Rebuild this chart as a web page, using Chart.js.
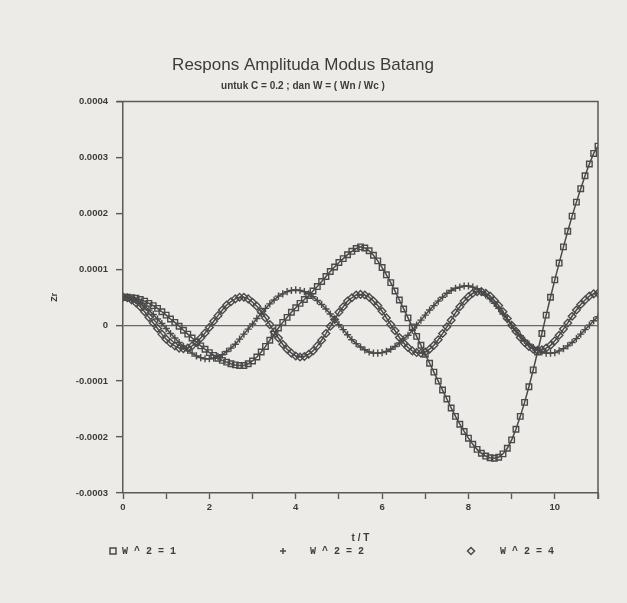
<!DOCTYPE html>
<html>
<head>
<meta charset="utf-8">
<script src="https://cdn.jsdelivr.net/npm/chart.js@4/dist/chart.umd.min.js"></script>
<style>
  html, body { margin: 0; padding: 0; background: #ecebe8; }
  #wrap { width: 627px; height: 603px; position: relative; }
</style>
</head>
<body>
<div id="wrap"><canvas id="c" width="627" height="603"></canvas></div>
<script>
// ---- data (in units of 1e-4) ----
const tValues = [
  0.0,0.1,0.2,0.3,0.4,0.5,0.6,0.7,0.8,0.9,
  1.0,1.1,1.2,1.3,1.4,1.5,1.6,1.7,1.8,1.9,
  2.0,2.1,2.2,2.3,2.4,2.5,2.6,2.7,2.8,2.9,
  3.0,3.1,3.2,3.3,3.4,3.5,3.6,3.7,3.8,3.9,
  4.0,4.1,4.2,4.3,4.4,4.5,4.6,4.7,4.8,4.9,
  5.0,5.1,5.2,5.3,5.4,5.5,5.6,5.7,5.8,5.9,
  6.0,6.1,6.2,6.3,6.4,6.5,6.6,6.7,6.8,6.9,
  7.0,7.1,7.2,7.3,7.4,7.5,7.6,7.7,7.8,7.9,
  8.0,8.1,8.2,8.3,8.4,8.5,8.6,8.7,8.8,8.9,
  9.0,9.1,9.2,9.3,9.4,9.5,9.6,9.7,9.8,9.9,
  10.0,10.1,10.2,10.3,10.4,10.5,10.6,10.7,10.8,10.9,
  11.0
];
const seriesLabels = ['W^2=1', 'W^2=2', 'W^2=4'];
const valuesW1 = [
  0.50,0.50,0.49,0.48,0.46,0.43,0.39,0.35,0.30,0.24,
  0.18,0.11,0.05,-0.02,-0.09,-0.16,-0.23,-0.30,-0.37,-0.43,
  -0.49,-0.54,-0.59,-0.63,-0.66,-0.69,-0.71,-0.72,-0.72,-0.69,
  -0.64,-0.57,-0.48,-0.38,-0.27,-0.16,-0.05,0.05,0.14,0.23,
  0.31,0.39,0.46,0.53,0.61,0.69,0.78,0.87,0.96,1.04,
  1.12,1.19,1.26,1.32,1.37,1.40,1.38,1.33,1.25,1.15,
  1.03,0.90,0.76,0.61,0.45,0.29,0.13,-0.03,-0.20,-0.36,
  -0.52,-0.68,-0.84,-1.00,-1.16,-1.32,-1.48,-1.63,-1.77,-1.90,
  -2.02,-2.13,-2.22,-2.29,-2.34,-2.37,-2.38,-2.36,-2.30,-2.20,
  -2.05,-1.86,-1.63,-1.38,-1.10,-0.80,-0.48,-0.15,0.18,0.50,
  0.81,1.11,1.40,1.68,1.95,2.20,2.44,2.67,2.88,3.07,
  3.20
];
const valuesW2 = [
  0.50,0.49,0.47,0.44,0.39,0.34,0.27,0.19,0.11,0.03,
  -0.06,-0.15,-0.23,-0.31,-0.38,-0.45,-0.50,-0.55,-0.58,-0.60,
  -0.60,-0.59,-0.56,-0.53,-0.47,-0.41,-0.34,-0.25,-0.16,-0.07,
  0.02,0.12,0.21,0.30,0.38,0.45,0.52,0.56,0.60,0.62,
  0.63,0.62,0.60,0.56,0.51,0.44,0.37,0.29,0.20,0.10,
  0.01,-0.08,-0.17,-0.26,-0.33,-0.39,-0.44,-0.48,-0.50,-0.50,
  -0.49,-0.47,-0.43,-0.38,-0.32,-0.25,-0.18,-0.09,0.00,0.09,
  0.18,0.27,0.35,0.43,0.50,0.57,0.62,0.66,0.68,0.70,
  0.70,0.68,0.65,0.60,0.54,0.47,0.39,0.30,0.20,0.10,
  0.00,-0.10,-0.19,-0.27,-0.34,-0.40,-0.45,-0.48,-0.50,-0.50,
  -0.49,-0.46,-0.42,-0.37,-0.31,-0.24,-0.16,-0.08,0.00,0.08,
  0.15
];
const valuesW4 = [
  0.50,0.49,0.45,0.40,0.33,0.24,0.14,0.04,-0.06,-0.16,
  -0.25,-0.32,-0.37,-0.41,-0.42,-0.41,-0.37,-0.31,-0.23,-0.14,
  -0.04,0.07,0.17,0.27,0.36,0.42,0.47,0.50,0.50,0.47,
  0.41,0.34,0.24,0.13,0.01,-0.12,-0.23,-0.34,-0.43,-0.50,
  -0.55,-0.57,-0.56,-0.52,-0.46,-0.37,-0.27,-0.15,-0.02,0.10,
  0.23,0.33,0.43,0.49,0.54,0.55,0.54,0.50,0.43,0.35,
  0.25,0.13,0.01,-0.10,-0.22,-0.32,-0.40,-0.46,-0.49,-0.50,
  -0.48,-0.43,-0.36,-0.26,-0.15,-0.03,0.09,0.22,0.33,0.43,
  0.51,0.57,0.60,0.60,0.57,0.52,0.44,0.35,0.24,0.12,
  0.00,-0.11,-0.22,-0.31,-0.38,-0.43,-0.45,-0.44,-0.41,-0.36,
  -0.28,-0.18,-0.07,0.04,0.16,0.27,0.37,0.45,0.52,0.56,
  0.57
];
const VALUE_UNIT = 1e-4;
const xTickLabels = ['0','','2','','4','','6','','8','','10',''];
const yTickLabels = ['-0.0003','-0.0002','-0.0001','0','0.0001','0.0002','0.0003','0.0004'];

// ---- styling ----
const INK = '#4a4a4a';
const AXIS = '#5a5a5a';
const TEXT = '#3c3c3c';

function toPoints(vals) {
  return tValues.map((t, i) => ({ x: t, y: vals[i] * VALUE_UNIT }));
}

const pointStyles = ['rect', 'cross', 'rectRot'];
const pointRadii = [3.9, 3.6, 3.8];
const allValues = [valuesW1, valuesW2, valuesW4];

const datasets = allValues.map((vals, k) => ({
  label: seriesLabels[k],
  data: toPoints(vals),
  borderColor: INK,
  borderWidth: 1.5,
  pointStyle: pointStyles[k],
  pointRadius: pointRadii[k],
  pointBorderWidth: 1.4,
  pointBorderColor: INK,
  pointBackgroundColor: 'rgba(0,0,0,0)',
  tension: 0,
  fill: false
}));

// frame (top + right border) and bottom legend
const framePlugin = {
  id: 'frame',
  afterDraw(chart) {
    const { ctx, chartArea: a } = chart;
    ctx.save();
    ctx.strokeStyle = AXIS;
    ctx.lineWidth = 1.5;
    ctx.beginPath();
    ctx.moveTo(a.left - 6, a.top);
    ctx.lineTo(a.right, a.top);
    ctx.lineTo(a.right, a.bottom + 6);
    ctx.stroke();

    // legend row
    const y = a.bottom + 58;
    const marks = [a.left - 10, a.left + 160, a.left + 348];
    ctx.font = 'bold 10px "Liberation Mono", monospace';
    ctx.fillStyle = TEXT;
    ctx.textBaseline = 'middle';
    ctx.textAlign = 'left';
    chart.data.datasets.forEach((ds, i) => {
      const mx = marks[i];
      ctx.strokeStyle = INK;
      ctx.lineWidth = 1.5;
      ctx.beginPath();
      if (ds.pointStyle === 'rect') {
        ctx.rect(mx - 3, y - 3, 6, 6);
      } else if (ds.pointStyle === 'cross') {
        ctx.moveTo(mx - 3, y); ctx.lineTo(mx + 3, y);
        ctx.moveTo(mx, y - 3); ctx.lineTo(mx, y + 3);
      } else {
        ctx.moveTo(mx, y - 3.5); ctx.lineTo(mx + 3.5, y);
        ctx.lineTo(mx, y + 3.5); ctx.lineTo(mx - 3.5, y); ctx.closePath();
      }
      ctx.stroke();
      ctx.letterSpacing = '6px';
      ctx.fillText(ds.label, mx + (i === 0 ? 9 : (i === 1 ? 27 : 29)), y);
      ctx.letterSpacing = '0px';
    });
    ctx.restore();
  }
};

new Chart(document.getElementById('c'), {
  type: 'line',
  data: { datasets },
  plugins: [framePlugin],
  options: {
    responsive: false,
    animation: false,
    devicePixelRatio: 1,
    events: [],
    layout: { padding: { left: 8, right: 29, top: 0, bottom: 58 } },
    plugins: {
      legend: { display: false },
      tooltip: { enabled: false },
      title: {
        display: true,
        text: 'Respons Amplituda Modus Batang',
        color: TEXT,
        font: { family: '"Liberation Sans", Arial, sans-serif', size: 17, weight: 'normal', lineHeight: 1.2 },
        padding: { top: 55, bottom: 0 }
      },
      subtitle: {
        display: true,
        text: 'untuk C = 0.2 ; dan W = ( Wn / Wc )',
        color: TEXT,
        font: { family: '"Liberation Sans", Arial, sans-serif', size: 10, weight: 'bold', lineHeight: 1.0 },
        padding: { top: 6, bottom: 10 }
      }
    },
    scales: {
      x: {
        type: 'linear',
        min: 0,
        max: 11,
        afterFit(scale) { scale.height = 52; },
        ticks: {
          stepSize: 1,
          autoSkip: false,
          maxRotation: 0,
          color: TEXT,
          padding: 3,
          font: { family: '"Liberation Sans", Arial, sans-serif', size: 9.5, weight: 'bold' },
          callback: (v, i) => xTickLabels[i]
        },
        grid: { drawOnChartArea: false, drawTicks: true, tickLength: 6, tickColor: AXIS, tickWidth: 1.4 },
        border: { display: true, color: AXIS, width: 1.5 },
        title: {
          display: true,
          text: 't / T',
          color: TEXT,
          font: { family: '"Liberation Sans", Arial, sans-serif', size: 10, weight: 'bold', lineHeight: 1.2 },
          padding: { top: 0, bottom: 1 }
        }
      },
      y: {
        type: 'linear',
        min: -0.0003,
        max: 0.0004,
        afterFit(scale) { scale.width = 115; },
        ticks: {
          stepSize: 0.0001,
          color: TEXT,
          padding: 8,
          font: { family: '"Liberation Sans", Arial, sans-serif', size: 9.5, weight: 'bold' },
          callback: (v, i) => yTickLabels[i]
        },
        grid: {
          drawOnChartArea: true,
          drawTicks: true,
          tickLength: 7,
          tickColor: AXIS,
          tickWidth: 1.4,
          color: (c) => (c.tick && Math.abs(c.tick.value) < 1e-12) ? '#686868' : 'rgba(0,0,0,0)',
          lineWidth: 1.3
        },
        border: { display: true, color: AXIS, width: 1.5 },
        title: {
          display: true,
          text: 'Zr',
          color: TEXT,
          font: { family: '"Liberation Sans", Arial, sans-serif', size: 9, weight: 'bold', lineHeight: 1.2 },
          padding: { top: 41, bottom: 0 }
        }
      }
    }
  }
});
</script>
</body>
</html>
